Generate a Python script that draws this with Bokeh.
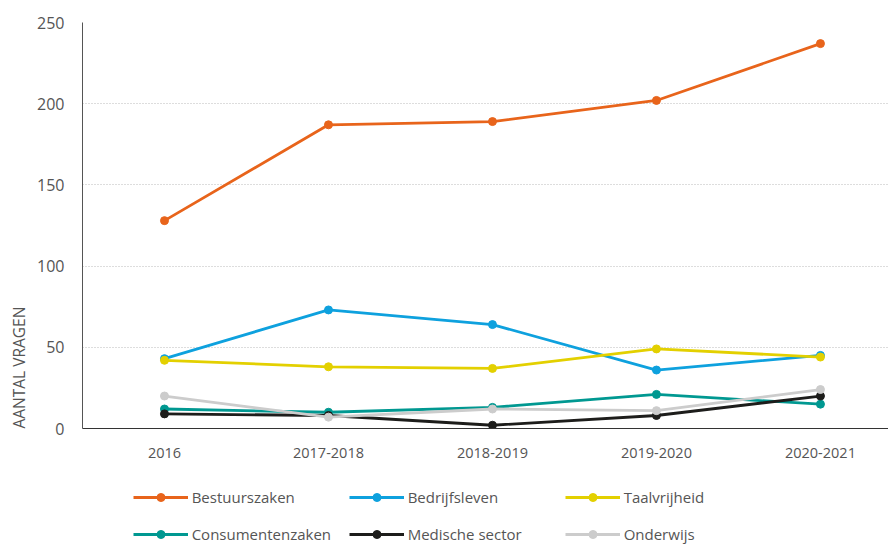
from bokeh.plotting import figure
from bokeh.layouts import column
from bokeh.models import (Legend, LegendItem, FixedTicker, Range1d, Title, ColumnDataSource)
from bokeh.embed import file_html
from bokeh.resources import INLINE

categories = ["2016", "2017-2018", "2018-2019", "2019-2020", "2020-2021"]
series_names = ["Bestuurszaken", "Bedrijfsleven", "Taalvrijheid",
                "Consumentenzaken", "Medische sector", "Onderwijs"]
bestuurszaken = [128, 187, 189, 202, 237]
bedrijfsleven = [43, 73, 64, 36, 45]
taalvrijheid = [42, 38, 37, 49, 44]
consumentenzaken = [12, 10, 13, 21, 15]
medische_sector = [9, 8, 2, 8, 20]
onderwijs = [20, 7, 12, 11, 24]
y_ticks = [0, 50, 100, 150, 200, 250]

values = [bestuurszaken, bedrijfsleven, taalvrijheid,
          consumentenzaken, medische_sector, onderwijs]
colors = ["#E8641B", "#0EA1DE", "#E3D000", "#009891", "#1D1D1B", "#CCCCCC"]

FONT = "Open Sans"
LW = 2.8
MS = 8

p = figure(width=880, height=464, frame_width=806, frame_height=406,
           output_backend="svg", toolbar_location=None,
           x_range=Range1d(-0.5, 4.415), y_range=Range1d(0, 250),
           min_border_top=22, min_border_right=0, min_border_left=74,
           min_border_bottom=36)
p.outline_line_color = None
p.background_fill_color = "white"
p.border_fill_color = "white"

# legend strip below the chart (its ranges keep the series out of view;
# it only shows the legend entries)
lg = figure(width=880, height=80, frame_width=806,
            output_backend="svg", toolbar_location=None,
            x_axis_type=None, y_axis_type=None,
            x_range=Range1d(100, 101), y_range=Range1d(1000, 1001),
            min_border=0, min_border_left=74)
lg.outline_line_color = None
lg.xgrid.visible = False
lg.ygrid.visible = False

xs = list(range(len(categories)))
items = []
for name, vals, col in zip(series_names, values, colors):
    src = ColumnDataSource(dict(x=xs, y=vals))
    p.line("x", "y", source=src, line_color=col, line_width=LW)
    p.scatter("x", "y", source=src, size=MS, fill_color=col, line_color=col)
    r1 = lg.line("x", "y", source=src, line_color=col, line_width=LW)
    r2 = lg.scatter("x", "y", source=src, size=MS - 1, fill_color=col, line_color=col)
    items.append(LegendItem(label=name, renderers=[r1, r2]))

# axes
p.xaxis.ticker = FixedTicker(ticks=xs)
p.xaxis.major_label_overrides = {i: c for i, c in enumerate(categories)}
p.xaxis.major_tick_line_color = None
p.xaxis.major_tick_out = 0
p.xaxis.minor_tick_line_color = None
p.xaxis.axis_line_color = "#333333"
p.xaxis.axis_line_width = 1.2
p.xaxis.major_label_text_font = FONT
p.xaxis.major_label_text_font_size = "14.5px"
p.xaxis.major_label_text_color = "#555555"
p.xaxis.major_label_standoff = 19

p.yaxis.ticker = FixedTicker(ticks=y_ticks)
p.yaxis.major_tick_line_color = None
p.yaxis.major_tick_out = 0
p.yaxis.minor_tick_line_color = None
p.yaxis.axis_line_color = "#555555"
p.yaxis.major_label_text_font = FONT
p.yaxis.major_label_text_font_size = "16px"
p.yaxis.major_label_text_color = "#555555"
p.yaxis.major_label_standoff = 18

p.xgrid.grid_line_color = None
p.ygrid.grid_line_color = "#BBBBBB"
p.ygrid.grid_line_dash = "1 2"
p.ygrid.grid_line_width = 1

title = Title(text="AANTAL VRAGEN", align="left", text_font=FONT,
              text_font_size="15.5px", text_font_style="normal",
              text_color="#555555", offset=0)
p.add_layout(title, "left")

legend = Legend(items=items, ncols=3, orientation="horizontal",
                location=(108, 0), margin=0, padding=0,
                glyph_width=55, glyph_height=20, label_standoff=4,
                label_width=140, spacing=17,
                label_text_font=FONT, label_text_font_size="15px",
                label_text_color="#555555", border_line_color=None,
                background_fill_alpha=0)
lg.add_layout(legend, "center")

layout = column(p, lg, spacing=0)
open("out.html", "w").write(file_html(layout, INLINE))
